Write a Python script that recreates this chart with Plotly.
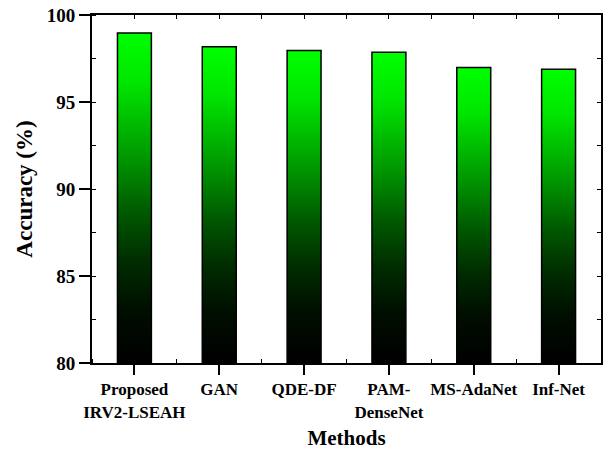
import plotly.graph_objects as go

methods = ["Proposed<br>IRV2-LSEAH", "GAN", "QDE-DF", "PAM-<br>DenseNet", "MS-AdaNet", "Inf-Net"]
accuracy = [98.97, 98.18, 97.96, 97.86, 96.98, 96.88]
y_ticks = [80, 85, 90, 95, 100]
y_base = 80

FONT = "Liberation Serif"
bar_w = 0.4
colorscale = [
    [0.0, "rgb(0,0,0)"],
    [0.16, "rgb(0,14,0)"],
    [0.31, "rgb(0,45,0)"],
    [0.46, "rgb(0,90,0)"],
    [0.62, "rgb(0,150,0)"],
    [0.85, "rgb(0,230,0)"],
    [1.0, "rgb(0,255,0)"],
]

fig = go.Figure()
for i, v in enumerate(accuracy):
    xs = [i - bar_w / 2, i - bar_w / 2, i + bar_w / 2, i + bar_w / 2, i - bar_w / 2]
    ys = [y_base, v, v, y_base, y_base]
    fig.add_trace(go.Scatter(
        x=xs, y=ys, mode="lines", fill="toself",
        fillgradient=dict(type="vertical", colorscale=colorscale),
        line=dict(color="black", width=1.5),
        showlegend=False, hoverinfo="skip",
    ))

# invisible trace for mirrored top/right axes
fig.add_trace(go.Scatter(x=[0], y=[90], xaxis="x2", yaxis="y2", mode="markers",
                         marker=dict(opacity=0), showlegend=False, hoverinfo="skip"))

n = len(methods)
half_vals = [i + 0.5 for i in range(-1, n)]

fig.update_layout(
    width=607, height=457,
    margin=dict(l=92, r=4, t=15, b=94),
    plot_bgcolor="white", paper_bgcolor="white",
    font=dict(family=FONT, color="black"),
    xaxis=dict(
        range=[-0.5, n - 0.5], tickmode="array", tickvals=list(range(n)), ticktext=methods,
        showline=True, linecolor="black", linewidth=2, mirror=True,
        ticks="outside", ticklen=10, tickwidth=2, tickcolor="black",
        showgrid=False, zeroline=False,
        tickfont=dict(family=FONT, size=17, color="black", weight="bold"),
        minor=dict(tickmode="array", tickvals=half_vals, ticks="inside", ticklen=4, tickwidth=1, tickcolor="black", showgrid=False),
        title=dict(text="<b>Methods</b>", font=dict(family=FONT, size=21, color="black"), standoff=10),
    ),
    yaxis=dict(
        range=[80, 100], tickmode="array", tickvals=y_ticks,
        showline=True, linecolor="black", linewidth=2, mirror=True,
        ticks="outside", ticklen=11, tickwidth=2, tickcolor="black",
        showgrid=False, zeroline=False,
        tickfont=dict(family=FONT, size=19, color="black", weight="bold"),
        minor=dict(tickmode="linear", tick0=80, dtick=2.5, ticks="inside", ticklen=4, tickwidth=1, tickcolor="black", showgrid=False),
        title=dict(text="<b>Accuracy (%)</b>", font=dict(family=FONT, size=23, color="black"), standoff=8),
    ),
    xaxis2=dict(
        range=[-0.5, n - 0.5], overlaying="x", side="top", showline=False,
        tickmode="array", tickvals=[i * 0.5 for i in range(0, 2 * n - 1)],
        ticks="inside", ticklen=4, tickwidth=1, tickcolor="black",
        showticklabels=False, showgrid=False, zeroline=False,
    ),
    yaxis2=dict(
        range=[80, 100], overlaying="y", side="right", showline=False,
        tickmode="linear", tick0=80, dtick=2.5,
        ticks="inside", ticklen=4, tickwidth=1, tickcolor="black",
        showticklabels=False, showgrid=False, zeroline=False,
    ),
)

fig.write_html("out.html")
